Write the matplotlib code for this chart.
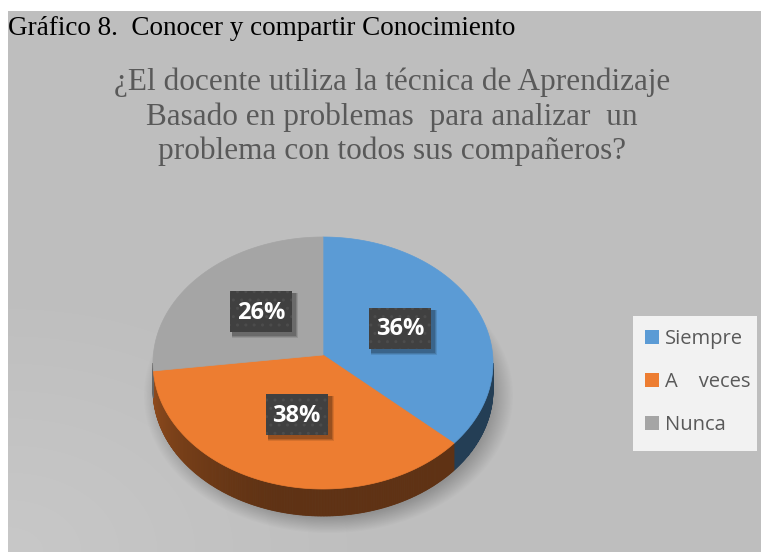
import numpy as np
import matplotlib
matplotlib.use('Agg')
import matplotlib.pyplot as plt
from matplotlib.patches import Polygon, Rectangle, Patch

# ---------------- data ----------------
categories = ['Siempre', 'A    veces', 'Nunca']
values = [36, 38, 26]
pct_labels = ['36%', '38%', '26%']
colors = ['#5B9BD5', '#ED7D31', '#A5A5A5']
caption = 'Gráfico 8.  Conocer y compartir Conocimiento'
title_lines = ['¿El docente utiliza la técnica de Aprendizaje',
               'Basado en problemas  para analizar  un',
               'problema con todos sus compañeros?']

# ---------------- figure ----------------
W, H = 761, 554
fig = plt.figure(figsize=(W / 100, H / 100), dpi=100)
fig.patch.set_facecolor('white')
ax = fig.add_axes([0, 0, 1, 1])
ax.axis('off')

# background panel with subtle gradient
px0, py0, px1, py1 = 8, 11, 761, 552
yy, xx = np.mgrid[py0:py1, px0:px1].astype(float)
d = np.sqrt(((xx - px0) / (px1 - px0)) ** 2 + ((py1 - yy) / (py1 - py0)) ** 2)
val = 0.749 + 0.035 * np.clip(1 - d / 0.45, 0, 1)
bg = np.dstack([val, val, val])
ax.imshow(bg, extent=(px0, px1, py1, py0), aspect='auto', zorder=0, interpolation='bilinear')

# ---------------- pie geometry ----------------
cx, cy = 323, 363
a, b = 170, 126
depth = 27
apx, apy = 323, 355

# soft shadow
sx, sy = cx + 5, cy + depth + 5
yy2, xx2 = np.mgrid[0:H, 0:W].astype(float)
r = np.sqrt(((xx2 - sx) / (a + 3)) ** 2 + ((yy2 - sy) / (b + 3)) ** 2)
alpha = 0.42 * np.clip((1.07 - r) / 0.13, 0, 1)
sh = np.zeros((H, W, 4))
sh[..., 0:3] = 0.33
sh[..., 3] = alpha
ax.imshow(sh, extent=(0, W, H, 0), aspect='auto', zorder=1, interpolation='bilinear')


def rim(th_deg, dy=0.0):
    th = np.radians(th_deg)
    return cx + a * np.sin(th), cy - b * np.cos(th) + dy


def hexrgb(c):
    c = c.lstrip('#')
    return np.array([int(c[i:i + 2], 16) for i in (0, 2, 4)]) / 255.0


total = float(sum(values))
bounds = np.concatenate([[0], np.cumsum(values) / total * 360.0])

# side walls (front half only)
for i, col in enumerate(colors):
    s, e = bounds[i], bounds[i + 1]
    lo, hi = max(s, 90), min(e, 270)
    if hi <= lo:
        continue
    base = hexrgb(col)
    th = np.linspace(lo, hi, max(int((hi - lo) * 2), 2))
    for t0, t1 in zip(th[:-1], th[1:]):
        tm = 0.5 * (t0 + t1)
        f = 0.40 + 0.22 * np.clip((tm - 195) / 75, 0, 1) ** 1.3
        c = np.clip(base * f, 0, 1)
        x0, y0 = rim(t0)
        x1, y1 = rim(t1)
        poly = Polygon([(x0, y0), (x1, y1), (x1, y1 + depth), (x0, y0 + depth)],
                       closed=True, fc=c, ec=c, lw=0.6, zorder=2)
        ax.add_patch(poly)

# top faces
for i, col in enumerate(colors):
    s, e = bounds[i], bounds[i + 1]
    th = np.linspace(s, e, 200)
    pts = [(apx, apy)] + [rim(t) for t in th]
    ax.add_patch(Polygon(pts, closed=True, fc=col, ec=col, lw=0.5, zorder=3))

# data labels
for i, lab in enumerate(pct_labels):
    mid = np.radians(0.5 * (bounds[i] + bounds[i + 1]))
    lx = apx + 0.5 * a * np.sin(mid)
    ly = apy - 0.5 * b * np.cos(mid)
    bw, bh = 62, 41
    for k, al in enumerate([0.10, 0.13, 0.17]):
        o = 6 - k
        ax.add_patch(Rectangle((lx - bw / 2 + 2, ly - bh / 2 + 2), bw + o - 2, bh + o - 2,
                               fc='black', ec='none', alpha=al, zorder=4))
    ax.add_patch(Rectangle((lx - bw / 2, ly - bh / 2), bw, bh, fc='#404040',
                           ec='#4C4C4C', lw=0, hatch='..', zorder=5))
    ax.text(lx, ly + 1, lab, ha='center', va='center', color='white',
            fontsize=17, fontweight='bold', family='Open Sans', zorder=6)

# ---------------- texts ----------------
ax.text(8, 35, caption, ha='left', va='baseline', fontsize=19.5,
        family='Liberation Serif', color='black', zorder=7)
for j, line in enumerate(title_lines):
    ax.text(392, 90 + 34.5 * j, line, ha='center', va='baseline', fontsize=22.5,
            family='Liberation Serif', color='#595959', zorder=7)

# ---------------- legend ----------------
ax.add_patch(Rectangle((633, 316), 124, 135, fc='#F2F2F2', ec='none', zorder=7))
handles = [Patch(fc=c, ec='none') for c in colors]
leg = ax.legend(handles, categories, loc='upper left',
                bbox_to_anchor=(645 / W, 1 - 329 / H), bbox_transform=fig.transFigure,
                frameon=False, prop={'family': 'Open Sans', 'size': 14.5},
                labelcolor='#595959', handlelength=0.7, handleheight=0.7,
                handletextpad=0.3, labelspacing=1.15, borderpad=0, borderaxespad=0)
leg.set_zorder(8)

ax.set_xlim(0, W)
ax.set_ylim(H, 0)
fig.savefig('out.png', dpi=100, facecolor='white')
